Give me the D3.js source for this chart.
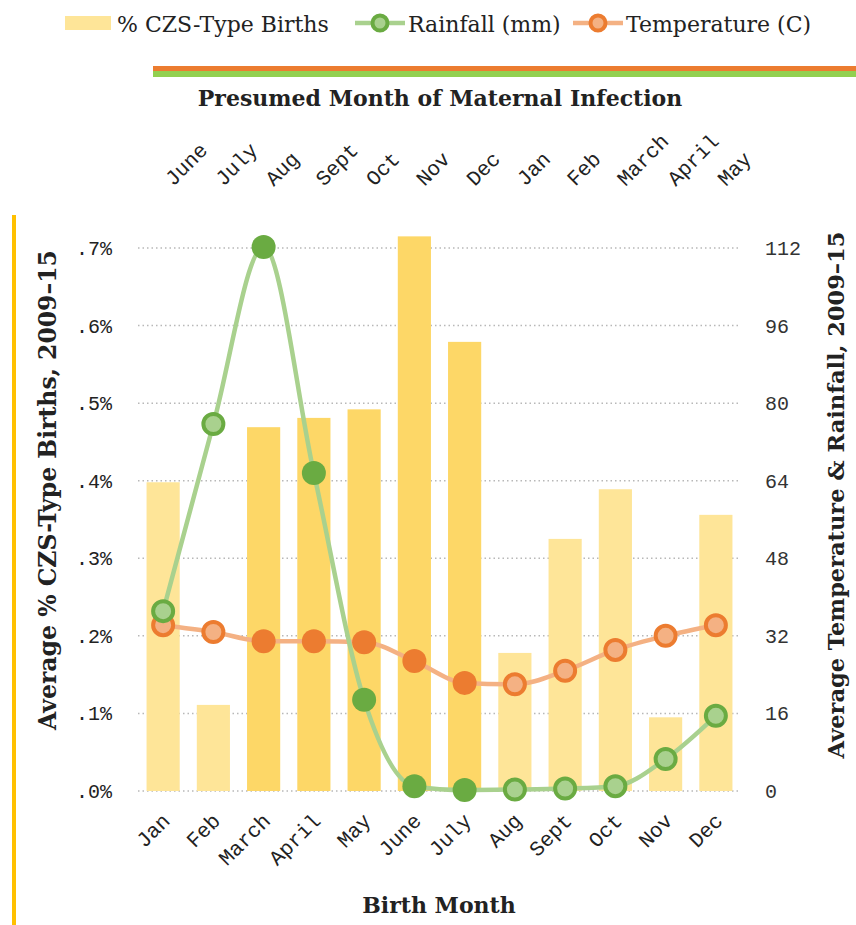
<!DOCTYPE html>
<html>
<head>
<meta charset="utf-8">
<script src="https://cdn.jsdelivr.net/npm/d3@7"></script>
<style>
  body { margin: 0; background: #fff; }
  svg { display: block; }
</style>
</head>
<body>
<svg width="856" height="925"></svg>
<script>
// birth months (bottom axis) and the presumed infection months (top axis)
const birthMonths = ['Jan', 'Feb', 'March', 'April', 'May', 'June', 'July', 'Aug', 'Sept', 'Oct', 'Nov', 'Dec'];
const infectionMonths = ['June', 'July', 'Aug', 'Sept', 'Oct', 'Nov', 'Dec', 'Jan', 'Feb', 'March', 'April', 'May'];
const peakMonths = ['March', 'April', 'May', 'June', 'July'];

// % CZS-type births (in percent)
const czsBirths = [0.398, 0.111, 0.469, 0.481, 0.492, 0.715, 0.579, 0.178, 0.325, 0.389, 0.095, 0.356];
// rainfall (mm) and temperature (C)
const rainfall = [37.1, 75.7, 112.2, 65.6, 18.8, 1.0, 0.2, 0.3, 0.5, 1.0, 6.6, 15.5];
const temperature = [34.2, 32.8, 30.9, 30.9, 30.7, 26.8, 22.3, 22.0, 24.8, 29.1, 32.0, 34.2];

const leftTicks = [0, 0.1, 0.2, 0.3, 0.4, 0.5, 0.6, 0.7];
const rightTicks = [0, 16, 32, 48, 64, 80, 96, 112];

const svg = d3.select('svg');
const serif = '"DejaVu Serif", "Liberation Serif", serif';
const mono = '"Liberation Mono", "DejaVu Sans Mono", monospace';

const x = d3.scaleBand().domain(birthMonths).range([138, 741]).paddingInner(0.34).paddingOuter(0.17);
const xTop = d3.scaleBand().domain(infectionMonths).range([138, 741]).paddingInner(0.34).paddingOuter(0.17);
const yLeft = d3.scaleLinear().domain([0, 0.7]).range([791, 248]);
const yRight = d3.scaleLinear().domain([0, 112]).range([791, 248]);
const cx = m => x(m) + x.bandwidth() / 2;

const green = { dark: '#6aab42', light: '#a9d18e' };
const orange = { dark: '#ec7c30', light: '#f4b183' };

// gold side rule and the coloured rules under the legend
svg.append('line').attr('x1', 14).attr('x2', 14).attr('y1', 215).attr('y2', 925)
  .attr('stroke', '#ffc000').attr('stroke-width', 4);
svg.append('rect').attr('x', 153).attr('y', 66).attr('width', 703).attr('height', 5).attr('fill', orange.dark);
svg.append('rect').attr('x', 153).attr('y', 71).attr('width', 703).attr('height', 6).attr('fill', '#92d050');

// gridlines
svg.append('g').selectAll('line').data(leftTicks).join('line')
  .attr('x1', 138).attr('x2', 741)
  .attr('y1', d => yLeft(d)).attr('y2', d => yLeft(d))
  .attr('stroke', '#b8b8b8').attr('stroke-width', 1.5).attr('stroke-dasharray', '1.5,3');

// bars
svg.append('g').selectAll('rect').data(birthMonths).join('rect')
  .attr('x', d => x(d))
  .attr('width', x.bandwidth())
  .attr('y', (d, i) => yLeft(czsBirths[i]))
  .attr('height', (d, i) => yLeft(0) - yLeft(czsBirths[i]))
  .attr('fill', d => peakMonths.includes(d) ? '#fdd767' : '#fee598');

// lines with markers
function drawSeries(values, col) {
  const line = d3.line()
    .x((d, i) => cx(birthMonths[i]))
    .y(d => yRight(d))
    .curve(d3.curveMonotoneX);
  svg.append('path').datum(values)
    .attr('d', line).attr('fill', 'none')
    .attr('stroke', col.light).attr('stroke-width', 4.5);
  svg.append('g').selectAll('circle').data(values).join('circle')
    .attr('cx', (d, i) => cx(birthMonths[i]))
    .attr('cy', d => yRight(d))
    .attr('r', (d, i) => peakMonths.includes(birthMonths[i]) ? 12 : 10)
    .attr('fill', (d, i) => peakMonths.includes(birthMonths[i]) ? col.dark : col.light)
    .attr('stroke', col.dark)
    .attr('stroke-width', (d, i) => peakMonths.includes(birthMonths[i]) ? 0 : 4);
}
drawSeries(temperature, orange);
drawSeries(rainfall, green);

// left axis labels
svg.append('g').selectAll('text').data(leftTicks).join('text')
  .attr('x', 112).attr('y', d => yLeft(d) + 7)
  .attr('text-anchor', 'end')
  .style('font-family', mono).style('font-size', '20px').attr('fill', '#222')
  .text(d => d3.format('.1f')(d).replace(/^0/, '') + '%');

// right axis labels
svg.append('g').selectAll('text').data(rightTicks).join('text')
  .attr('x', 765).attr('y', d => yRight(d) + 7)
  .style('font-family', mono).style('font-size', '20px').attr('fill', '#333')
  .text(d => d);

// bottom month labels
svg.append('g').selectAll('text').data(birthMonths).join('text')
  .attr('text-anchor', 'end')
  .attr('transform', d => `translate(${cx(d) + 8},${822}) rotate(-45)`)
  .style('font-family', mono).style('font-size', '21px').attr('fill', '#222')
  .text(d => d);

// top month labels
svg.append('g').selectAll('text').data(infectionMonths).join('text')
  .attr('text-anchor', 'start')
  .attr('transform', d => `translate(${xTop(d) + xTop.bandwidth() / 2 + 10},${187}) rotate(-45)`)
  .style('font-family', mono).style('font-size', '21px').attr('fill', '#222')
  .text(d => d);

// axis titles
const title = (txt, tx, ty, rot, size) => svg.append('text')
  .attr('transform', `translate(${tx},${ty}) rotate(${rot})`)
  .attr('text-anchor', 'middle')
  .style('font-family', serif).style('font-size', size + 'px').style('font-weight', 'bold')
  .attr('fill', '#222').text(txt);
title('Presumed Month of Maternal Infection', 440, 106, 0, 22);
title('Birth Month', 439, 913, 0, 22);
title('Average % CZS-Type Births, 2009–15', 56, 490, -90, 23.5);
title('Average Temperature & Rainfall, 2009–15', 844, 495, -90, 22.5);

// legend
const legend = svg.append('g').style('font-family', serif).style('font-size', '22px').attr('fill', '#222');
legend.append('rect').attr('x', 65).attr('y', 16).attr('width', 46).attr('height', 14).attr('fill', '#fee598');
legend.append('text').attr('x', 117).attr('y', 32).text('% CZS-Type Births');
[[green, 355, 'Rainfall (mm)'], [orange, 573, 'Temperature (C)']].forEach(([col, lx, label]) => {
  legend.append('line').attr('x1', lx).attr('x2', lx + 50).attr('y1', 23).attr('y2', 23)
    .attr('stroke', col.light).attr('stroke-width', 4.5);
  legend.append('circle').attr('cx', lx + 25).attr('cy', 23).attr('r', 7.5)
    .attr('fill', col.light).attr('stroke', col.dark).attr('stroke-width', 4);
  legend.append('text').attr('x', lx + 53).attr('y', 32).text(label);
});
</script>
</body>
</html>
